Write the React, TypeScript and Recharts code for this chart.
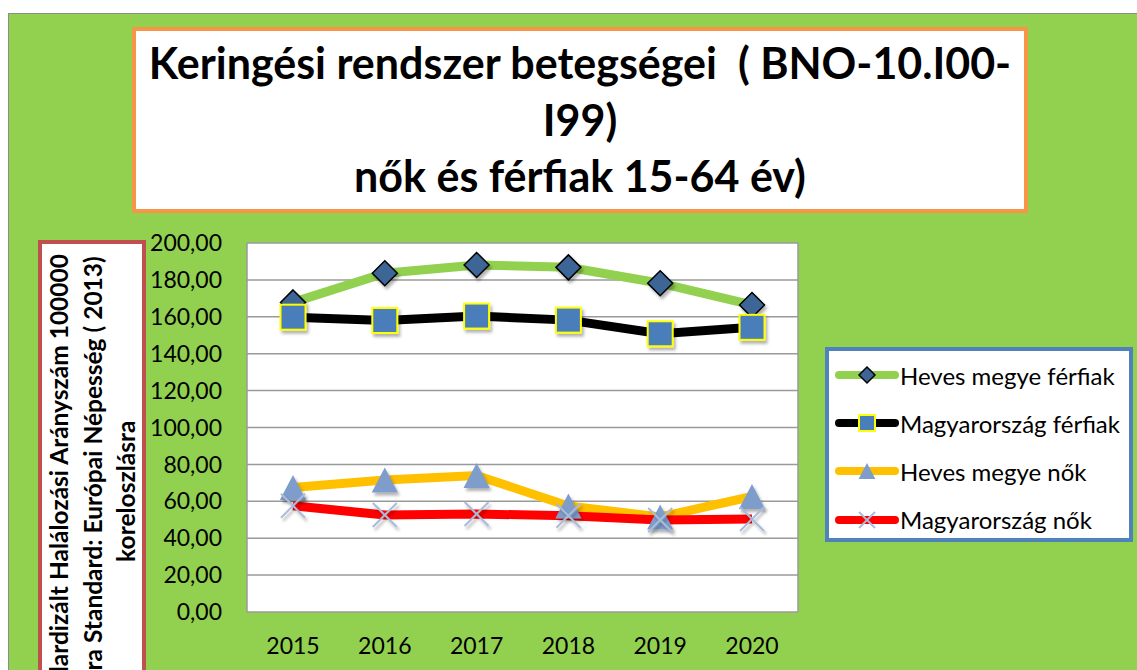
import { LineChart, Line, XAxis, YAxis, CartesianGrid, Legend } from 'recharts'

const years = ['2015', '2016', '2017', '2018', '2019', '2020']
const hevesFerfi = [167.8, 183.6, 188.1, 186.8, 178.2, 166.4]
const magyarFerfi = [159.8, 158.0, 160.4, 158.2, 150.8, 154.3]
const hevesNo = [67.5, 71.5, 74.0, 57.5, 51.5, 62.6]
const magyarNo = [57.6, 52.6, 53.1, 52.2, 49.9, 50.4]
const yTicks = [0, 20, 40, 60, 80, 100, 120, 140, 160, 180, 200]

const titleLines = ['Keringési rendszer betegségei  ( BNO-10.I00-', 'I99)', 'nők és férfiak 15-64 év)']
const yLabelLines = [
  'Standardizált Halálozási Arányszám 100000',
  'lakosra Standard: Európai Népesség ( 2013)',
  'koreloszlásra',
]

type MarkerType = 'diamond' | 'square' | 'triangle' | 'cross'

const SERIES: { key: string; name: string; color: string; marker: MarkerType; values: number[] }[] = [
  { key: 'hevesFerfi', name: 'Heves megye férfiak', color: '#92D050', marker: 'diamond', values: hevesFerfi },
  { key: 'magyarFerfi', name: 'Magyarország férfiak', color: '#000000', marker: 'square', values: magyarFerfi },
  { key: 'hevesNo', name: 'Heves megye nők', color: '#FFC000', marker: 'triangle', values: hevesNo },
  { key: 'magyarNo', name: 'Magyarország nők', color: '#FF0000', marker: 'cross', values: magyarNo },
]

const data = years.map((year, i) => {
  const row: Record<string, string | number> = { year }
  SERIES.forEach((s) => (row[s.key] = s.values[i]))
  return row
})

const GREEN = '#92D050'
const FONT = 'Lato, "Open Sans", sans-serif'

// r = half size of the marker
function marker(type: MarkerType, cx: number, cy: number, r: number, shadow: boolean) {
  const filter = shadow ? 'url(#mshadow)' : undefined
  if (type === 'diamond')
    return (
      <polygon
        points={`${cx},${cy - r} ${cx + r},${cy} ${cx},${cy + r} ${cx - r},${cy}`}
        fill="#3D6696"
        stroke="#000"
        strokeWidth={1.5}
        filter={filter}
      />
    )
  if (type === 'square')
    return (
      <rect
        x={cx - r}
        y={cy - r}
        width={r * 2}
        height={r * 2}
        fill="#4A7EBB"
        stroke="#FFFF00"
        strokeWidth={2}
        filter={filter}
      />
    )
  if (type === 'triangle')
    return (
      <polygon
        points={`${cx},${cy - r} ${cx + r * 1.05},${cy + r} ${cx - r * 1.05},${cy + r}`}
        fill="#7F9DCB"
        filter={filter}
      />
    )
  return (
    <g stroke="#A9BBDA" strokeWidth={2} filter={filter}>
      <line x1={cx - r} y1={cy - r} x2={cx + r} y2={cy + r} />
      <line x1={cx - r} y1={cy + r} x2={cx + r} y2={cy - r} />
    </g>
  )
}

const dotRenderer = (type: MarkerType, r: number) => (props: any) => (
  <g key={`${type}-${props.index}`}>{marker(type, props.cx, props.cy, r, true)}</g>
)

const seriesIndex = (key: string) => SERIES.findIndex((s) => s.key === key)

const renderLegend = (props: any) => {
  const payload = [...(props.payload || [])].sort(
    (a: any, b: any) => seriesIndex(a.dataKey) - seriesIndex(b.dataKey)
  )
  return (
    <div
      style={{
        boxSizing: 'border-box',
        width: '100%',
        height: '100%',
        background: '#fff',
        border: '4px solid #4F81BD',
        padding: '0 0 0 3px',
        fontFamily: FONT,
        fontSize: 24,
        color: '#000',
      }}
    >
      {payload.map((entry: any) => {
        const s = SERIES[seriesIndex(entry.dataKey)]
        return (
          <div key={s.key} style={{ display: 'flex', alignItems: 'center', height: 48.2 }}>
            <svg width={68} height={30} style={{ flex: 'none' }}>
              <line x1={7} y1={15} x2={63} y2={15} stroke={s.color} strokeWidth={8} strokeLinecap="round" />
              {marker(s.marker, 35, 15, 8, false)}
            </svg>
            <span style={{ whiteSpace: 'nowrap' }}>{entry.value}</span>
          </div>
        )
      })}
    </div>
  )
}

export default function App() {
  const tickStyle = { fontFamily: FONT, fontSize: 23, fill: '#000' }
  return (
    <div
      style={{
        position: 'fixed',
        left: 0,
        top: 0,
        width: 1137,
        height: 670,
        overflow: 'hidden',
        background: '#fff',
      }}
    >
      <div
        style={{
          position: 'absolute',
          left: 8,
          top: 13,
          width: 1200,
          height: 700,
          background: GREEN,
          border: '1px solid #8c8c8c',
        }}
      />
      <div style={{ position: 'absolute', left: 0, top: 0 }}>
        <LineChart width={1137} height={670} data={data} margin={{ top: 243, right: 338, bottom: 18, left: 0 }}>
          <defs>
            <filter id="mshadow" x="-50%" y="-50%" width="200%" height="200%">
              <feDropShadow dx={2} dy={3} stdDeviation={1.5} floodColor="#000" floodOpacity={0.3} />
            </filter>
          </defs>
          <CartesianGrid vertical={false} stroke="#9a9a9a" strokeWidth={1.5} fill="#fff" />
          <XAxis
            dataKey="year"
            padding={{ left: 46, right: 46 }}
            axisLine={false}
            tickLine={false}
            tickSize={0}
            tickMargin={26}
            height={40}
            tick={tickStyle}
          />
          <YAxis
            domain={[0, 200]}
            ticks={yTicks}
            interval={0}
            width={247}
            axisLine={{ stroke: '#9a9a9a', strokeWidth: 1.5 }}
            tickLine={false}
            tickSize={0}
            tickMargin={25}
            tick={tickStyle}
            tickFormatter={(v: number) => v.toFixed(2).replace('.', ',')}
          />
          <YAxis
            yAxisId="r"
            orientation="right"
            domain={[0, 200]}
            width={1}
            tick={false}
            tickLine={false}
            axisLine={{ stroke: '#9a9a9a', strokeWidth: 1.5 }}
          />
          <Legend
            layout="vertical"
            align="center"
            verticalAlign="middle"
            content={renderLegend}
            wrapperStyle={{ position: 'absolute', left: 825, top: 347, width: 308, height: 195 }}
          />
          <Line
            dataKey="hevesFerfi"
            name="Heves megye férfiak"
            stroke="#92D050"
            strokeWidth={9}
            dot={dotRenderer('diamond', 12.5)}
            activeDot={false}
            isAnimationActive={false}
          />
          <Line
            dataKey="magyarFerfi"
            name="Magyarország férfiak"
            stroke="#000000"
            strokeWidth={9}
            dot={dotRenderer('square', 12.5)}
            activeDot={false}
            isAnimationActive={false}
          />
          <Line
            dataKey="hevesNo"
            name="Heves megye nők"
            stroke="#FFC000"
            strokeWidth={9}
            dot={dotRenderer('triangle', 12.5)}
            activeDot={false}
            isAnimationActive={false}
          />
          <Line
            dataKey="magyarNo"
            name="Magyarország nők"
            stroke="#FF0000"
            strokeWidth={9}
            dot={dotRenderer('cross', 12)}
            activeDot={false}
            isAnimationActive={false}
          />
        </LineChart>
      </div>

      {/* title */}
      <div
        style={{
          position: 'absolute',
          left: 132,
          top: 27,
          width: 896,
          height: 186,
          boxSizing: 'border-box',
          border: '4px solid #F79646',
          background: '#fff',
          fontFamily: FONT,
          fontWeight: 700,
          fontSize: 43,
          lineHeight: '56.5px',
          textAlign: 'center',
          whiteSpace: 'pre',
          paddingTop: 4,
          color: '#000',
        }}
      >
        {titleLines.map((l, i) => (
          <div key={i}>{l}</div>
        ))}
      </div>

      {/* y axis title box, cut off by the bottom edge like the original */}
      <div
        style={{
          position: 'absolute',
          left: 38,
          top: 240,
          width: 108,
          height: 500,
          boxSizing: 'border-box',
          border: '4px solid #C0504D',
          background: '#fff',
        }}
      />
      <div
        style={{
          position: 'absolute',
          left: 92 - 320,
          top: 491 - 50.25,
          width: 640,
          height: 100.5,
          transform: 'rotate(-90deg)',
          transformOrigin: 'center center',
          fontFamily: FONT,
          fontWeight: 700,
          fontSize: 24.5,
          lineHeight: '33.5px',
          textAlign: 'center',
          whiteSpace: 'nowrap',
          color: '#000',
        }}
      >
        {yLabelLines.map((l, i) => (
          <div key={i}>{l}</div>
        ))}
      </div>
    </div>
  )
}
